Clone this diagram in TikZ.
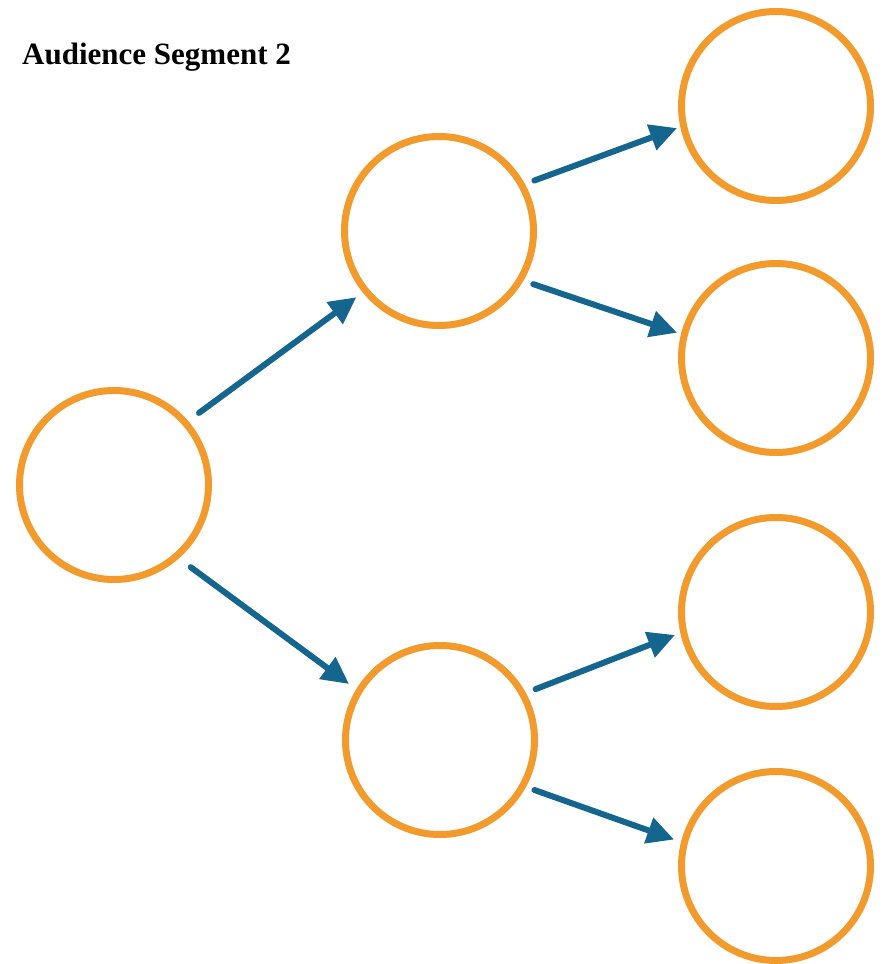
\documentclass[tikz,border=0pt]{standalone}
\usepackage{fontspec}
\setmainfont{Liberation Serif}
\usetikzlibrary{arrows.meta}
\definecolor{ringorange}{HTML}{F39A2C}
\definecolor{arrowblue}{HTML}{14668F}
\begin{document}
\begin{tikzpicture}[x=1pt,y=-1pt,
  ring/.style={circle,draw=ringorange,line width=7pt,minimum size=189pt,inner sep=0pt,outer sep=0pt},
  link/.style={draw=arrowblue,line width=6pt,line cap=round,
    -{Triangle[length=27pt,width=26pt]}}]
\useasboundingbox (0,0) rectangle (883,964);
% title
\node[anchor=base west,inner sep=0pt,font=\fontsize{31}{36}\selectfont\bfseries] (title) at (22,64) {Audience Segment 2};
% nodes
\node[ring] (root) at (114,485) {};
\node[ring] (a) at (439,231) {};
\node[ring] (b) at (440,740) {};
\node[ring] (a1) at (776,106) {};
\node[ring] (a2) at (776,358) {};
\node[ring] (b1) at (776,612) {};
\node[ring] (b2) at (776,866) {};
% connectors (border angles chosen so each arrow runs on its own line)
\draw[link,shorten <=17pt,shorten >=11.4pt] (root.41) -- (a.219.6);
\draw[link,shorten <=18.3pt,shorten >=12.4pt] (root.311.2) -- (b.149);
\draw[link,shorten <=13.5pt,shorten >=7pt] (a.29.4) -- (a1.192);
\draw[link,shorten <=14pt,shorten >=7.6pt] (a.329.9) -- (a2.166.2);
\draw[link,shorten <=14pt,shorten >=9.2pt] (b.29.9) -- (b1.192.1);
\draw[link,shorten <=12.5pt,shorten >=10.8pt] (b.331.8) -- (b2.166.4);
\end{tikzpicture}
\end{document}
